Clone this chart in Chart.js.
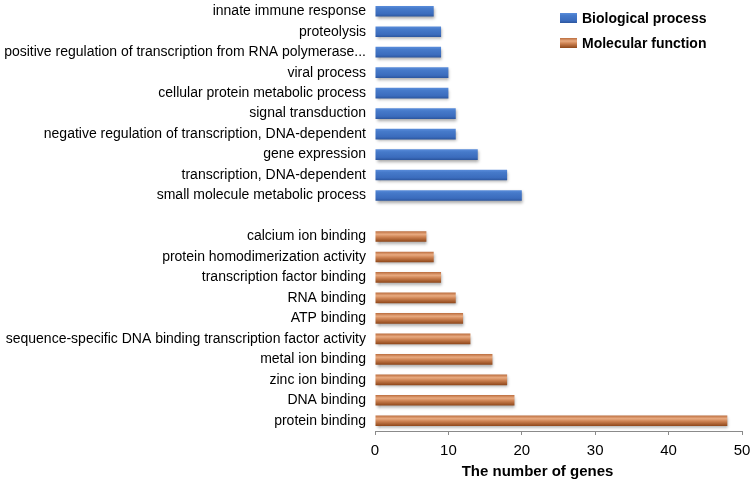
<!DOCTYPE html>
<html>
<head>
<meta charset="utf-8">
<script src="https://cdn.jsdelivr.net/npm/chart.js@4/dist/chart.umd.min.js"></script>
<style>
  html, body { margin: 0; padding: 0; background: #fff; }
  #wrap { width: 756px; height: 483px; position: relative; }
</style>
</head>
<body>
<div id="wrap"><canvas id="c" width="756" height="483"></canvas></div>
<script>
// ---- data ----
const bpLabels = [
  'innate immune response',
  'proteolysis',
  'positive regulation of transcription from RNA polymerase...',
  'viral process',
  'cellular protein metabolic process',
  'signal transduction',
  'negative regulation of transcription, DNA-dependent',
  'gene expression',
  'transcription, DNA-dependent',
  'small molecule metabolic process'
];
const bpValues = [8, 9, 9, 10, 10, 11, 11, 14, 18, 20];

const mfLabels = [
  'calcium ion binding',
  'protein homodimerization activity',
  'transcription factor binding',
  'RNA binding',
  'ATP binding',
  'sequence-specific DNA binding transcription factor activity',
  'metal ion binding',
  'zinc ion binding',
  'DNA binding',
  'protein binding'
];
const mfValues = [7, 8, 9, 11, 12, 13, 16, 18, 19, 48];

const seriesNames = ['Biological process', 'Molecular function'];
const xTickMin = 0, xTickMax = 50, xTickStep = 10;
const xTitle = 'The number of genes';

// ---- build table ----
const labels = [...bpLabels, '', ...mfLabels];
const bpData = [...bpValues, ...new Array(mfLabels.length + 1).fill(null)];
const mfData = [...new Array(bpLabels.length + 1).fill(null), ...mfValues];

const BAR_PCT = 0.52;
const blueStops = [[0, '#5a8ddb'], [0.25, '#467aca'], [0.75, '#3b6cbd'], [1, '#2c569e']];
const brownStops = [[0, '#bb6d3e'], [0.3, '#e8aa80'], [0.55, '#cd8252'], [1, '#8e4619']];

function makeGrad(ctx2d, y0, y1, stops) {
  const g = ctx2d.createLinearGradient(0, y0, 0, y1);
  stops.forEach(([o, c]) => g.addColorStop(o, c));
  return g;
}
function gradFill(stops) {
  return (ctx) => {
    const chart = ctx.chart;
    const ys = chart.scales && chart.scales.y;
    if (!ys || ctx.type !== 'data' || !chart.chartArea) return stops[1][1];
    const c = ys.getPixelForValue(ctx.dataIndex);
    const half = (ys.height / labels.length) * BAR_PCT / 2;
    return makeGrad(chart.ctx, c - half, c + half, stops);
  };
}

const shadowPlugin = {
  id: 'barShadow',
  beforeDatasetsDraw(chart) {
    const c = chart.ctx;
    c.save();
    c.shadowColor = 'rgba(0,0,0,0.35)';
    c.shadowBlur = 3;
    c.shadowOffsetX = 1;
    c.shadowOffsetY = 2;
  },
  afterDatasetsDraw(chart) { chart.ctx.restore(); }
};

const legendPlugin = {
  id: 'customLegend',
  afterDraw(chart) {
    const c = chart.ctx;
    const stopsList = [blueStops, brownStops];
    c.save();
    chart.data.datasets.forEach((ds, i) => {
      const cy = 18 + i * 25;
      c.fillStyle = makeGrad(c, cy - 5, cy + 5, stopsList[i]);
      c.fillRect(560, cy - 5, 17, 10);
      c.fillStyle = '#000';
      c.font = 'bold 14px "Liberation Sans", Arial, sans-serif';
      c.textBaseline = 'middle';
      c.textAlign = 'left';
      c.fillText(ds.label, 582, cy + 1);
    });
    // axis title
    const xs = chart.scales.x;
    c.font = 'bold 15px "Liberation Sans", Arial, sans-serif';
    c.textAlign = 'center';
    c.textBaseline = 'middle';
    c.fillText(xTitle, (xs.left + xs.right) / 2 - 21, 472);
    c.restore();
  }
};

new Chart(document.getElementById('c'), {
  type: 'bar',
  data: {
    labels: labels,
    datasets: [
      { label: seriesNames[0], data: bpData, backgroundColor: gradFill(blueStops), grouped: false,
        barPercentage: BAR_PCT, categoryPercentage: 1, borderWidth: 0 },
      { label: seriesNames[1], data: mfData, backgroundColor: gradFill(brownStops), grouped: false,
        barPercentage: BAR_PCT, categoryPercentage: 1, borderWidth: 0 }
    ]
  },
  options: {
    indexAxis: 'y',
    responsive: false,
    animation: false,
    layout: { padding: { top: 1, right: 14, bottom: 0, left: 0 } },
    plugins: { legend: { display: false }, tooltip: { enabled: false } },
    scales: {
      x: {
        min: xTickMin, max: xTickMax,
        ticks: { stepSize: xTickStep, color: '#000', padding: 7,
          font: { family: '"Liberation Sans", Arial, sans-serif', size: 15 } },
        grid: { drawOnChartArea: false, drawTicks: true, tickLength: 4, color: '#8a8a8a' },
        border: { display: true, color: '#8a8a8a', width: 1 },
        afterFit(s) { s.height = 52; s.paddingLeft = 0; s.paddingRight = 0; }
      },
      y: {
        ticks: { autoSkip: false, color: '#000', padding: 9,
          font: { family: '"Liberation Sans", Arial, sans-serif', size: 14 } },
        grid: { display: false, drawTicks: false },
        border: { display: false },
        afterFit(s) { s.width = 375; s.paddingTop = 0; s.paddingBottom = 0; }
      }
    }
  },
  plugins: [shadowPlugin, legendPlugin]
});
</script>
</body>
</html>
